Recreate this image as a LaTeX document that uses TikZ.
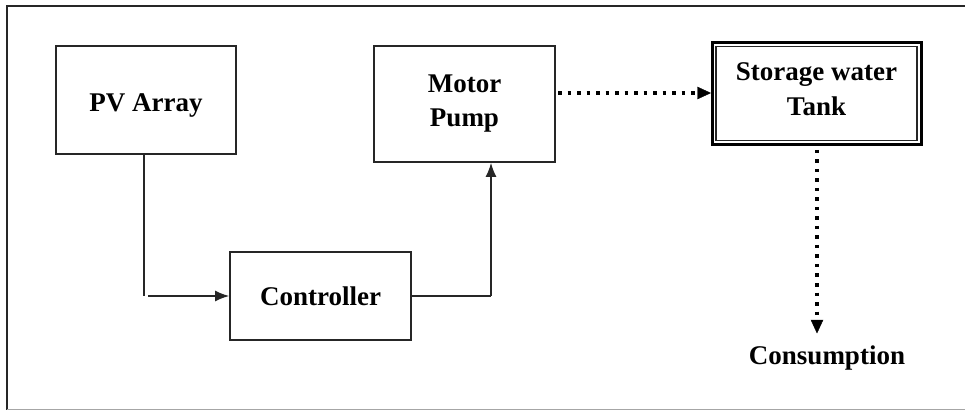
\documentclass[tikz,border=0pt]{standalone}
\usepackage{fontspec}
\setmainfont{Liberation Serif}
\usetikzlibrary{arrows.meta}
\begin{document}
\begin{tikzpicture}[x=1pt,y=-1pt,
  blk/.style={draw=black!85,line width=1.6pt,inner sep=0pt,align=center,
    font=\fontsize{27}{34}\selectfont\bfseries},
  lbl/.style={inner sep=0pt,align=center,font=\fontsize{27}{35}\selectfont\bfseries},
  conn/.style={draw=black!85,line width=1.6pt},
  tip/.style={-{Latex[length=14pt,width=11pt]}},
  dots/.style={draw=black,line width=3.5pt,dash pattern=on 3.5pt off 6pt}
]
\useasboundingbox (0,0) rectangle (965,411);
% frame
\draw[black!85,line width=1.6pt] (965,6) -- (7,6) -- (7,410);
\draw[black!35,line width=1.2pt] (7,409.5) -- (965,409.5);
% boxes
\node[blk,minimum width=180pt,minimum height=108pt] (pv) at (146,100) {};
\node[lbl] (pvt) at (146,106) {PV Array};
\node[blk,minimum width=181pt,minimum height=116pt] (mp) at (464.5,104) {Motor\\Pump};
\node[blk,minimum width=181pt,minimum height=88pt] (ct) at (320.5,296) {Controller};
\node[draw=black,line width=3pt,minimum width=209pt,minimum height=102pt,inner sep=0pt] (st) at (816.5,94) {};
\node[blk,minimum width=201pt,minimum height=94pt] (sti) at (816.5,93.5) {};
\node[lbl] (stt) at (816.5,89.5) {Storage water\\Tank};
\node[lbl] (cons) at (827,358) {Consumption};
% connectors
\coordinate (c1) at (144,296);
\draw[conn] (pv.south -| c1) -- (c1);
\draw[conn,tip] ([xshift=4pt]c1) -- (ct.west);
\coordinate (c2) at (491,296);
\draw[conn] (ct.east) -- (c2);
\draw[conn,tip] (c2) -- (c2 |- mp.south);
% dotted flows
\coordinate (h1) at (558,93);
\coordinate (h2) at (697,93);
\draw[dots] (h1) -- (h2);
\draw[black,fill=black] (h2 -| st.west) -- ++(-13,-6) -- ++(0,12) -- cycle;
\coordinate (d1) at (817,150);
\coordinate (d2) at (817,318);
\draw[dots] (d1) -- (d2);
\draw[black,fill=black] (817,333) -- ++(-6,-13) -- ++(12,0) -- cycle;
\end{tikzpicture}
\end{document}
